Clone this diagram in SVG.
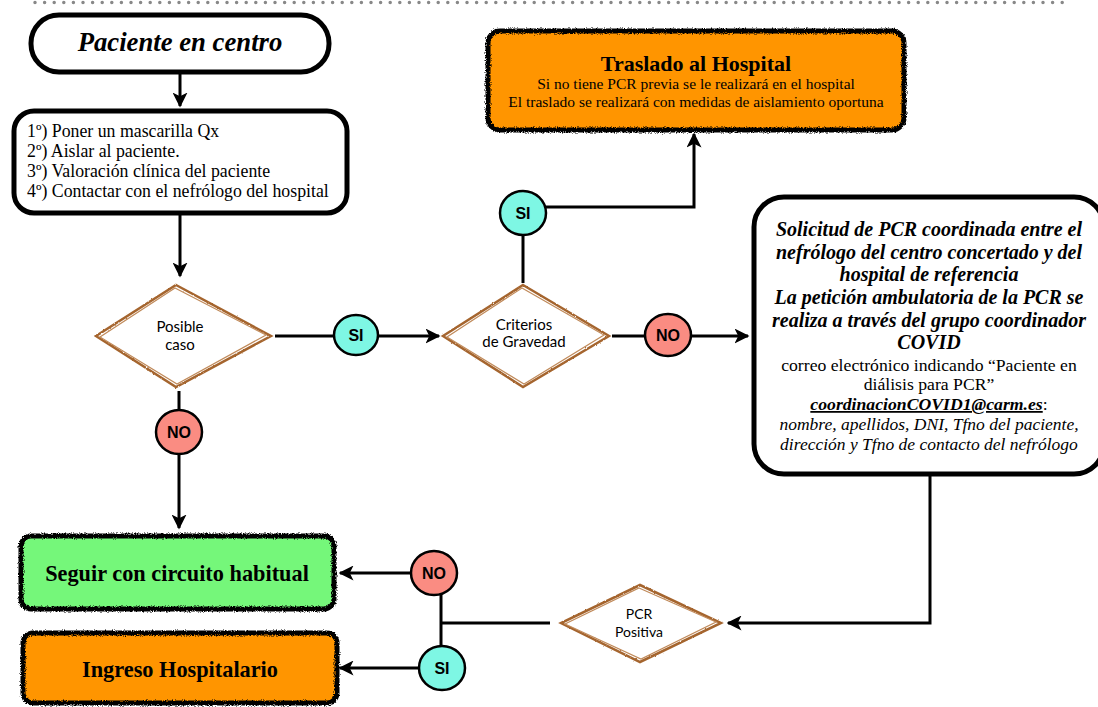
<svg xmlns="http://www.w3.org/2000/svg" width="1098" height="707" viewBox="0 0 1098 707">
<style>
.serif{font-family:"Liberation Serif","Times New Roman","DejaVu Serif",serif;fill:#000}
.sans{font-family:Lato,"Liberation Sans",sans-serif;fill:#000}
.lbl{font-family:"Liberation Sans",Arial,sans-serif;font-weight:bold;font-size:16px;text-anchor:middle;fill:#000}
.box{fill:#fff;stroke:#000;stroke-width:5}
.rough{stroke:#000;stroke-width:5}
.dia{fill:#fff;stroke:#a5652f;stroke-width:2.5}
.dia2{fill:none;stroke:#c08a5a;stroke-width:1.2}
.con{fill:none;stroke:#000;stroke-width:3}
.si{fill:#7ef7e4;stroke:#000;stroke-width:2.5}
.no{fill:#fa8c82;stroke:#000;stroke-width:2.5}
</style>
<defs>
<marker id="arr" viewBox="0 0 10 10" refX="9" refY="5" markerWidth="5" markerHeight="5" orient="auto" markerUnits="strokeWidth">
<path d="M0,0 L10,5 L0,10 L2.5,5 z" fill="#000"/>
</marker>
<filter id="sk" x="-5%" y="-10%" width="110%" height="120%">
<feTurbulence type="fractalNoise" baseFrequency="0.9" numOctaves="2" seed="3"/>
<feDisplacementMap in="SourceGraphic" scale="4" xChannelSelector="R" yChannelSelector="G"/>
</filter>
<filter id="sk2" x="-5%" y="-10%" width="110%" height="120%">
<feTurbulence type="fractalNoise" baseFrequency="0.6" numOctaves="2" seed="7"/>
<feDisplacementMap in="SourceGraphic" scale="2" xChannelSelector="R" yChannelSelector="G"/>
</filter>
</defs>
<rect width="1098" height="707" fill="#fff"/>
<line x1="35" y1="2.5" x2="1066" y2="2.5" stroke="#888" stroke-width="3.5" stroke-linecap="round" stroke-dasharray="0 9.6"/>

<g id="connectors">
<line class="con" x1="180" y1="73" x2="180" y2="106" marker-end="url(#arr)"/>
<line class="con" x1="180" y1="214" x2="180" y2="276" marker-end="url(#arr)"/>
<line class="con" x1="275" y1="336" x2="439" y2="336" marker-end="url(#arr)"/>
<line class="con" x1="523" y1="283" x2="523" y2="236"/>
<polyline class="con" points="545,207 694,207 694,134" marker-end="url(#arr)"/>
<line class="con" x1="612" y1="336" x2="748" y2="336" marker-end="url(#arr)"/>
<line class="con" x1="179" y1="391" x2="179" y2="528" marker-end="url(#arr)"/>
<polyline class="con" points="930,476 930,623 728,623" marker-end="url(#arr)"/>
<line class="con" x1="550" y1="623" x2="441" y2="623"/>
<line class="con" x1="441" y1="595" x2="441" y2="646"/>
<line class="con" x1="411" y1="573" x2="340" y2="573" marker-end="url(#arr)"/>
<line class="con" x1="419" y1="668" x2="340" y2="668" marker-end="url(#arr)"/>
</g>

<g id="paciente">
<rect class="box" x="31" y="15" width="298" height="57" rx="28"/>
<text class="serif" x="180" y="51" font-size="26.7" font-weight="bold" font-style="italic" text-anchor="middle">Paciente en centro</text>
</g>

<g id="pasos">
<rect class="box" x="14" y="111" width="333" height="102" rx="20"/>
<text class="serif" x="27" y="137" font-size="17.8">1º) Poner un mascarilla Qx</text>
<text class="serif" x="27" y="157" font-size="17.8">2º) Aislar al paciente.</text>
<text class="serif" x="27" y="177" font-size="17.8">3º) Valoración clínica del paciente</text>
<text class="serif" x="27" y="197" font-size="17.8">4º) Contactar con el nefrólogo del hospital</text>
</g>

<g id="posible">
<polygon class="dia" points="176,285 271,336 176,387 96,336" filter="url(#sk2)"/>
<polygon class="dia2" points="175,288 266,335 177,384 100,337"/>
<text class="sans" x="180" y="332" font-size="15" text-anchor="middle">Posible</text>
<text class="sans" x="180" y="350" font-size="15" text-anchor="middle">caso</text>
</g>

<g id="si1">
<ellipse class="si" cx="356" cy="335" rx="22" ry="20"/>
<text class="lbl" x="356" y="341">SI</text>
</g>

<g id="criterios">
<polygon class="dia" points="523,285 609,336 523,387 443,336" filter="url(#sk2)"/>
<polygon class="dia2" points="522,288 604,335 524,384 447,337"/>
<text class="sans" x="524" y="330" font-size="15" text-anchor="middle">Criterios</text>
<text class="sans" x="524" y="347" font-size="15" text-anchor="middle">de Gravedad</text>
</g>

<g id="si2">
<ellipse class="si" cx="523" cy="213" rx="23" ry="22"/>
<text class="lbl" x="523" y="219">SI</text>
</g>

<g id="traslado">
<rect class="rough" x="488" y="31" width="416" height="99" rx="12" fill="#ff9500" filter="url(#sk)"/>
<text class="serif" x="696" y="71" font-size="22" font-weight="bold" text-anchor="middle">Traslado al Hospital</text>
<text class="serif" x="696" y="89" font-size="15.5" text-anchor="middle">Si no tiene PCR previa se le realizará en el hospital</text>
<text class="serif" x="696" y="107" font-size="15.5" text-anchor="middle">El traslado se realizará con medidas de aislamiento oportuna</text>
</g>

<g id="no1">
<ellipse class="no" cx="668" cy="335" rx="23" ry="21"/>
<text class="lbl" x="668" y="341">NO</text>
</g>

<g id="solicitud">
<rect class="box" x="754" y="197" width="350" height="277" rx="30"/>
<text class="serif" x="929" y="236" font-size="20" font-weight="bold" font-style="italic" text-anchor="middle">Solicitud de PCR coordinada entre el</text>
<text class="serif" x="929" y="259" font-size="20" font-weight="bold" font-style="italic" text-anchor="middle">nefrólogo del centro concertado y del</text>
<text class="serif" x="929" y="281" font-size="20" font-weight="bold" font-style="italic" text-anchor="middle">hospital de referencia</text>
<text class="serif" x="929" y="304" font-size="20" font-weight="bold" font-style="italic" text-anchor="middle">La petición ambulatoria de la PCR se</text>
<text class="serif" x="929" y="327" font-size="20" font-weight="bold" font-style="italic" text-anchor="middle">realiza a través del grupo coordinador</text>
<text class="serif" x="929" y="349" font-size="20" font-weight="bold" font-style="italic" text-anchor="middle">COVID</text>
<text class="serif" x="929" y="371" font-size="17.7" text-anchor="middle">correo electrónico indicando “Paciente en</text>
<text class="serif" x="929" y="390" font-size="17.7" text-anchor="middle">diálisis para PCR”</text>
<text class="serif" x="929" y="410" font-size="17.7" text-anchor="middle"><tspan font-weight="bold" font-style="italic" text-decoration="underline">coordinacionCOVID1@carm.es</tspan>:</text>
<text class="serif" x="929" y="430" font-size="17.5" font-style="italic" text-anchor="middle">nombre, apellidos, DNI, Tfno del paciente,</text>
<text class="serif" x="929" y="450" font-size="17.5" font-style="italic" text-anchor="middle">dirección y Tfno de contacto del nefrólogo</text>
</g>

<g id="no2">
<ellipse class="no" cx="179" cy="432" rx="23" ry="22"/>
<text class="lbl" x="179" y="438">NO</text>
</g>

<g id="seguir">
<rect class="rough" x="21" y="536" width="313" height="73" rx="10" fill="#74f77a" filter="url(#sk)"/>
<text class="serif" x="177" y="581" font-size="22.3" font-weight="bold" text-anchor="middle">Seguir con circuito habitual</text>
</g>

<g id="ingreso">
<rect class="rough" x="23" y="633" width="314" height="70" rx="10" fill="#ff9500" filter="url(#sk)"/>
<text class="serif" x="180" y="677" font-size="22.3" font-weight="bold" text-anchor="middle">Ingreso Hospitalario</text>
</g>

<g id="pcr">
<polygon class="dia" points="640,585 721,623 640,662 561,623" filter="url(#sk2)"/>
<polygon class="dia2" points="639,588 716,622 641,659 565,624"/>
<text class="sans" x="639" y="619" font-size="14" text-anchor="middle">PCR</text>
<text class="sans" x="639" y="637" font-size="14" text-anchor="middle">Positiva</text>
</g>

<g id="no3">
<ellipse class="no" cx="434" cy="573" rx="23" ry="22"/>
<text class="lbl" x="434" y="579">NO</text>
</g>

<g id="si3">
<ellipse class="si" cx="442" cy="668" rx="23" ry="22"/>
<text class="lbl" x="442" y="674">SI</text>
</g>
</svg>
